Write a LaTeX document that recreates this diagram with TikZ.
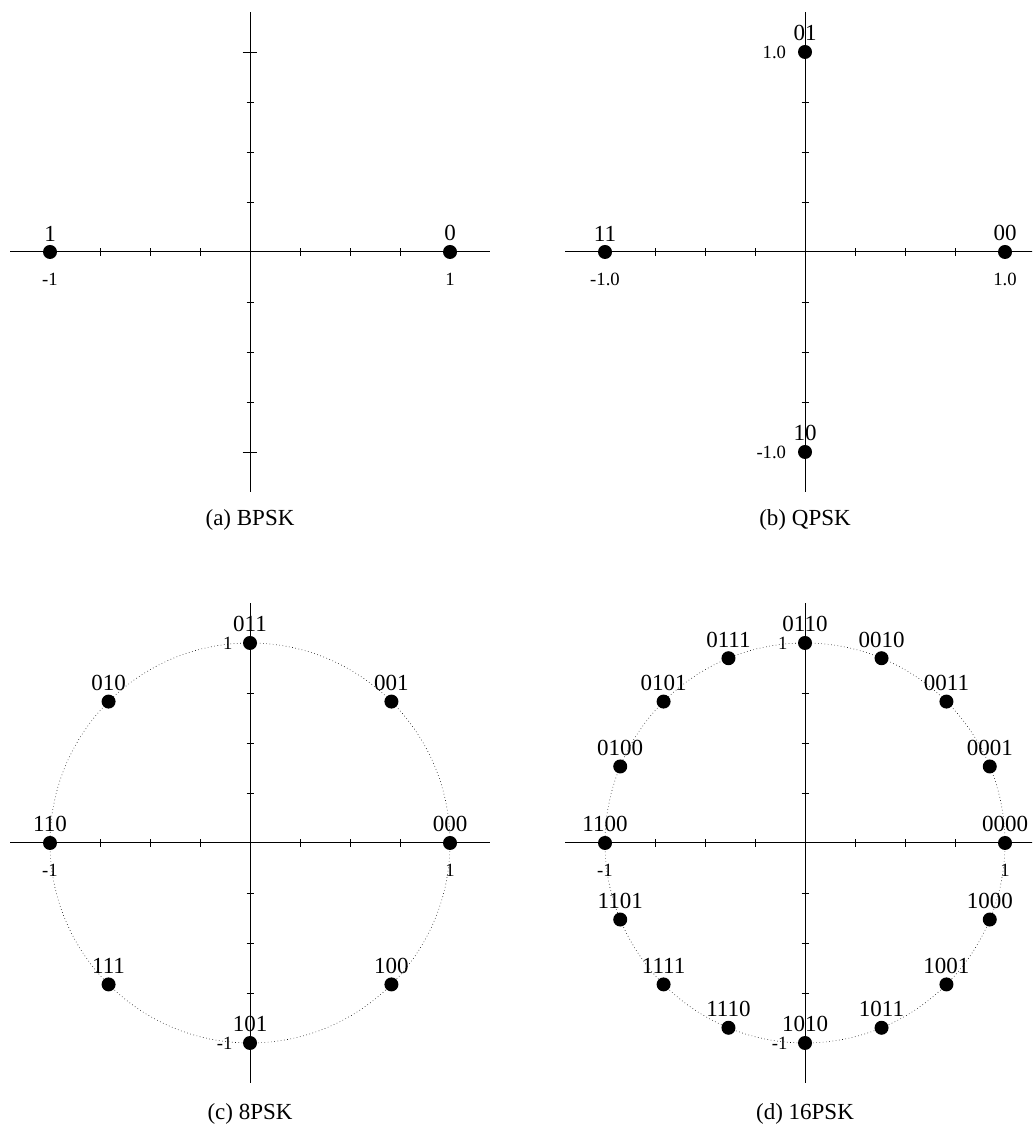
\documentclass[tikz,border=0pt]{standalone}
\usepackage{fontspec}
\setmainfont{Liberation Serif}
\usetikzlibrary{positioning}

\begin{document}
\begin{tikzpicture}[
    x=0.75pt,y=0.75pt,
    axis/.style={line width=0.75pt},
    tickmark/.style={line width=0.6pt},
    symb/.style={circle,fill=black,inner sep=0pt,minimum size=10.5pt},
    bits/.style={inner sep=0pt,font=\fontsize{17.25}{18}\selectfont},
    axlbl/.style={inner sep=0pt,font=\fontsize{14}{15}\selectfont},
    captxt/.style={inner sep=0pt,font=\fontsize{17.25}{18}\selectfont},
    ring/.style={dotted,line width=0.45pt}
]
    \clip (0,0) rectangle (1032,1130);

    % (a) BPSK
    \begin{scope}[shift={(250,878)},x=150pt,y=150pt]
        \draw[axis] (-1.2,0) -- (1.2,0);
        \draw[axis] (0,-1.2) -- (0,1.2);
        \foreach \t in {-0.75,-0.5,-0.25,0.25,0.5,0.75} {
            \draw[tickmark] (\t,-3pt) -- (\t,3pt);
            \draw[tickmark] (-2.5pt,\t) -- (3pt,\t);
        }
        \draw[tickmark] (-5.6pt,1) -- (5.6pt,1);
        \draw[tickmark] (-5.6pt,-1) -- (5.6pt,-1);
        \node[symb] (a0) at (1,0) {};
        \node[symb] (a1) at (-1,0) {};
        \node[bits,above=8pt of a0.center] (la0) {0};
        \node[bits,above=8pt of a1.center] (la1) {1};
        \node[axlbl] (axa1) at (1,-20.25pt) {1};
        \node[axlbl] (axa2) at (-1,-20.25pt) {-1};
        \node[captxt] (capa) at (0,-201pt) {(a) BPSK};
    \end{scope}

    % (b) QPSK
    \begin{scope}[shift={(805,878)},x=150pt,y=150pt]
        \draw[axis] (-1.2,0) -- (1.2,0);
        \draw[axis] (0,-1.2) -- (0,1.2);
        \foreach \t in {-0.75,-0.5,-0.25,0.25,0.5,0.75} {
            \draw[tickmark] (\t,-3pt) -- (\t,3pt);
            \draw[tickmark] (-2.5pt,\t) -- (3pt,\t);
        }
        \foreach \lab [count=\i from 0] in {00,01,11,10} {
            \node[symb] (b\i) at (\i*90:1) {};
            \node[bits,above=8pt of b\i.center] (lb\i) {\lab};
        }
        \node[axlbl] (axb1) at (1,-20.25pt) {1.0};
        \node[axlbl] (axb2) at (-1,-20.25pt) {-1.0};
        \node[axlbl,anchor=east] (axb3) at (-14pt,1) {1.0};
        \node[axlbl,anchor=east] (axb4) at (-14pt,-1) {-1.0};
        \node[captxt] (capb) at (0,-201pt) {(b) QPSK};
    \end{scope}

    % (c) 8PSK
    \begin{scope}[shift={(250,287)},x=150pt,y=150pt]
        \draw[ring] (0,0) circle[radius=1];
        \draw[axis] (-1.2,0) -- (1.2,0);
        \draw[axis] (0,-1.2) -- (0,1.2);
        \foreach \t in {-0.75,-0.5,-0.25,0.25,0.5,0.75} {
            \draw[tickmark] (\t,-3pt) -- (\t,3pt);
            \draw[tickmark] (-2.5pt,\t) -- (3pt,\t);
        }
        \foreach \lab [count=\i from 0] in {000,001,011,010,110,111,101,100} {
            \node[symb] (c\i) at (\i*45:1) {};
            \node[bits,above=8pt of c\i.center] (lc\i) {\lab};
        }
        \node[axlbl] (axc1) at (1,-20.25pt) {1};
        \node[axlbl] (axc2) at (-1,-20.25pt) {-1};
        \node[axlbl,anchor=east] (axc3) at (-13pt,1) {1};
        \node[axlbl,anchor=east] (axc4) at (-13pt,-1) {-1};
        \node[captxt] (capc) at (0,-203pt) {(c) 8PSK};
    \end{scope}

    % (d) 16PSK
    \begin{scope}[shift={(805,287)},x=150pt,y=150pt]
        \draw[ring] (0,0) circle[radius=1];
        \draw[axis] (-1.2,0) -- (1.2,0);
        \draw[axis] (0,-1.2) -- (0,1.2);
        \foreach \t in {-0.75,-0.5,-0.25,0.25,0.5,0.75} {
            \draw[tickmark] (\t,-3pt) -- (\t,3pt);
            \draw[tickmark] (-2.5pt,\t) -- (3pt,\t);
        }
        \foreach \lab [count=\i from 0] in {0000,0001,0011,0010,0110,0111,0101,0100,
                                           1100,1101,1111,1110,1010,1011,1001,1000} {
            \node[symb] (d\i) at (\i*22.5:1) {};
            \node[bits,above=8pt of d\i.center] (ld\i) {\lab};
        }
        \node[axlbl] (axd1) at (1,-20.25pt) {1};
        \node[axlbl] (axd2) at (-1,-20.25pt) {-1};
        \node[axlbl,anchor=east] (axd3) at (-13pt,1) {1};
        \node[axlbl,anchor=east] (axd4) at (-13pt,-1) {-1};
        \node[captxt] (capd) at (0,-203pt) {(d) 16PSK};
    \end{scope}
\end{tikzpicture}
\end{document}
